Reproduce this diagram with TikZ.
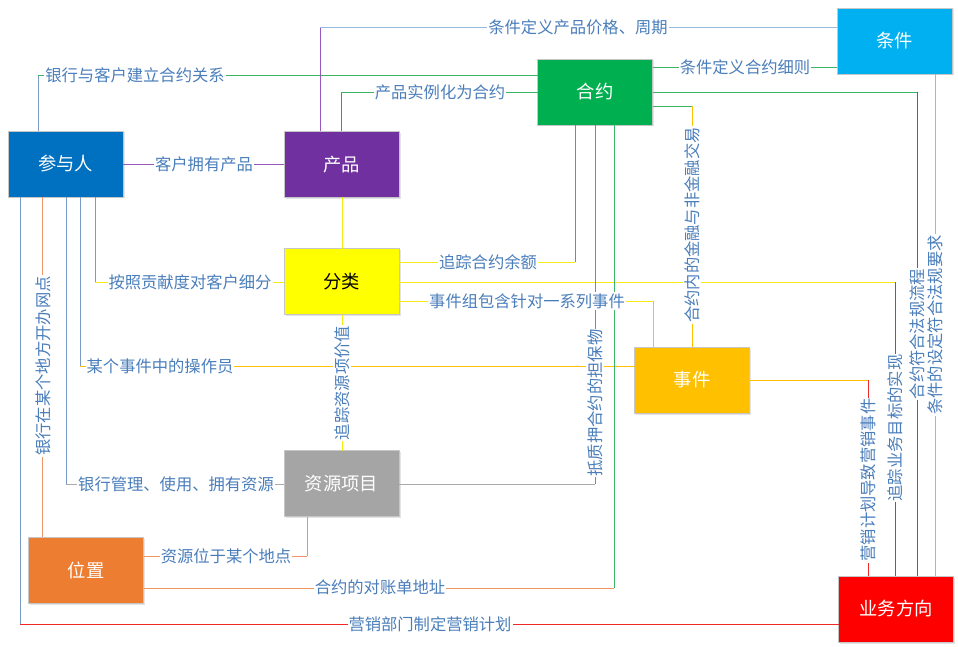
\documentclass[tikz,border=0pt]{standalone}
\usepackage{fontspec}
\setmainfont{Noto Sans CJK SC}
\usetikzlibrary{shadows}
\definecolor{lbl}{RGB}{74,126,187}
\definecolor{cblue}{RGB}{120,155,200}
\definecolor{cgreen}{RGB}{60,180,100}
\definecolor{cpurple}{RGB}{150,90,190}
\definecolor{clblue}{RGB}{150,185,225}
\definecolor{cred}{RGB}{240,40,40}
\definecolor{cyellow}{RGB}{245,235,20}
\definecolor{cgold}{RGB}{255,192,0}
\definecolor{cgray}{RGB}{170,170,170}
\definecolor{corange}{RGB}{240,150,100}
\definecolor{fblue}{RGB}{0,112,192}
\definecolor{fpurple}{RGB}{112,48,160}
\definecolor{fgreen}{RGB}{0,176,80}
\definecolor{fcyan}{RGB}{0,176,240}
\definecolor{fyellow}{RGB}{255,255,0}
\definecolor{fgold}{RGB}{255,192,0}
\definecolor{fgray}{RGB}{165,165,165}
\definecolor{forange}{RGB}{237,125,49}
\definecolor{fred}{RGB}{255,0,0}
\tikzset{
  ent/.style={draw=gray!45, line width=0.8pt, minimum width=115pt, minimum height=66pt,
    inner sep=0pt, outer sep=0pt, text=white, font=\fontsize{18.3}{20}\selectfont,
    drop shadow={shadow xshift=1.5pt,shadow yshift=-1.5pt,fill=gray!60,opacity=0.35}},
  lab/.style={fill=white, text=lbl, inner sep=1pt, font=\fontsize{16.3}{18}\selectfont},
  vlab/.style={lab, rotate=90},
  ln/.style={line width=0.9pt},
}
\begin{document}
\begin{tikzpicture}[x=1pt,y=-1pt]
\fill[white] (0,0) rectangle (958,647);
\useasboundingbox (0,0) rectangle (958,647);

% nodes
\node[ent, fill=fblue]   (p)  at (65.5,164)   {参与人};
\node[ent, fill=fpurple] (pr) at (341.5,164.5) {产品};
\node[ent, fill=fgreen]  (h)  at (595,92)     {合约};
\node[ent, fill=fcyan]   (t)  at (894.5,41)   {条件};
\node[ent, fill=fyellow, text=black] (f) at (341.5,281.5) {分类};
\node[ent, fill=fgold]   (e)  at (692,380)    {事件};
\node[ent, fill=fgray]   (r)  at (341.5,483.5) {资源项目};
\node[ent, fill=forange] (w)  at (86,570)     {位置};
\node[ent, fill=fred]    (b)  at (896,609)    {业务方向};

% corner coordinates
\coordinate (c1) at (38,75);
\coordinate (c2) at (320,27);
\coordinate (c3) at (341,92);
\coordinate (c5) at (700,67);
\coordinate (c6) at (917,92);
\coordinate (c7) at (692,106);
\coordinate (c8) at (935,300);
\coordinate (c9) at (342,220);
\coordinate (c10) at (575,262);
\coordinate (c11) at (895,282);
\coordinate (c12) at (653,301);
\coordinate (c14) at (95,282);
\coordinate (c15) at (80,366);
\coordinate (c16) at (66,484);
\coordinate (c17) at (42,300);
\coordinate (c18) at (20,624);
\coordinate (c19) at (595,484);
\coordinate (c20) at (614,588);
\coordinate (c21) at (307,556);
\coordinate (c22) at (868,380);

% connectors
\draw[ln,cblue]   (p.north -| c1) -- (c1);
\draw[ln,cgreen]  (c1) -- (h.west |- c1);
\draw[ln,cpurple] (pr.north -| c2) -- (c2);
\draw[ln,clblue]  (c2) -- (t.west |- c2);
\draw[ln,cpurple] (pr.north -| c3) -- (c3);
\draw[ln,cgreen]  (c3) -- (h.west |- c3);
\draw[ln,cpurple] (p.east) -- (pr.west |- p.east);
\draw[ln,cgreen]  (h.east |- c5) -- (t.west |- c5);
\draw[ln,cgreen]  (h.east |- c6) -- (c6);
\draw[ln,cred]    (c6) -- (b.north -| c6);
\draw[ln,cgreen]  (h.east |- c7) -- (c7);
\draw[ln,cgold]   (c7) -- (e.north -| c7);
\draw[ln,clblue]  (t.south -| c8) -- (b.north -| c8);
\draw[ln,cyellow] (pr.south -| c9) -- (f.north -| c9);
\draw[ln,cyellow] (f.east |- c10) -- (c10);
\draw[ln,cgreen]  (c10) -- (h.south -| c10);
\draw[ln,cyellow] (f.east |- c11) -- (c11);
\draw[ln,cred]    (c11) -- (b.north -| c11);
\draw[ln,cyellow] (f.east |- c12) -- (c12);
\draw[ln,cgold]   (c12) -- (e.north -| c12);
\draw[ln,cyellow] (f.south -| c9) -- (r.north -| c9);
\draw[ln,cblue]   (p.south -| c14) -- (c14);
\draw[ln,cyellow] (c14) -- (f.west |- c14);
\draw[ln,cblue]   (p.south -| c15) -- (c15);
\draw[ln,cgold]   (c15) -- (e.west |- c15);
\draw[ln,cblue]   (p.south -| c16) -- (c16);
\draw[ln,cgray]   (c16) -- (r.west |- c16);
\draw[ln,corange] (p.south -| c17) -- (w.north -| c17);
\draw[ln,cblue]   (p.south -| c18) -- (c18);
\draw[ln,cred]    (c18) -- (b.west |- c18);
\draw[ln,cgray]   (r.east |- c19) -- (c19);
\draw[ln,cgreen]  (c19) -- (h.south -| c19);
\draw[ln,corange] (w.east |- c20) -- (c20);
\draw[ln,cgreen]  (c20) -- (h.south -| c20);
\draw[ln,cgray]   (r.south -| c21) -- (c21);
\draw[ln,corange] (c21) -- (w.east |- c21);
\draw[ln,cgold]   (e.east |- c22) -- (c22);
\draw[ln,cred]    (c22) -- (b.north -| c22);

% labels
\node[lab] (l1)  at (135,75)  {银行与客户建立合约关系};
\node[lab] (l2)  at (578,27)  {条件定义产品价格、周期};
\node[lab] (l3)  at (440,92)  {产品实例化为合约};
\node[lab] (l4)  at (204,164) {客户拥有产品};
\node[lab] (l5)  at (745,67)  {条件定义合约细则};
\node[vlab] (l6) at (917,334) {合约符合法规流程};
\node[vlab] (l7) at (692,225) {合约内的金融与非金融交易};
\node[vlab] (l8) at (935,325) {条件的设定符合法规要求};
\node[lab] (l10) at (488,262) {追踪合约余额};
\node[vlab] (l11) at (895,428) {追踪业务目标的实现};
\node[lab] (l12) at (527,301) {事件组包含针对一系列事件};
\node[vlab] (l13) at (342,383) {追踪资源项价值};
\node[lab] (l14) at (190,282) {按照贡献度对客户细分};
\node[lab] (l15) at (160,366) {某个事件中的操作员};
\node[lab] (l16) at (176,484) {银行管理、使用、拥有资源};
\node[vlab] (l17) at (43,366) {银行在某个地方开办网点};
\node[lab] (l18) at (430,624) {营销部门制定营销计划};
\node[vlab] (l19) at (595,403) {抵质押合约的担保物};
\node[lab] (l20) at (380,587) {合约的对账单地址};
\node[lab] (l21) at (226,556) {资源位于某个地点};
\node[vlab] (l22) at (868,480) {营销计划导致营销事件};
\end{tikzpicture}
\end{document}
